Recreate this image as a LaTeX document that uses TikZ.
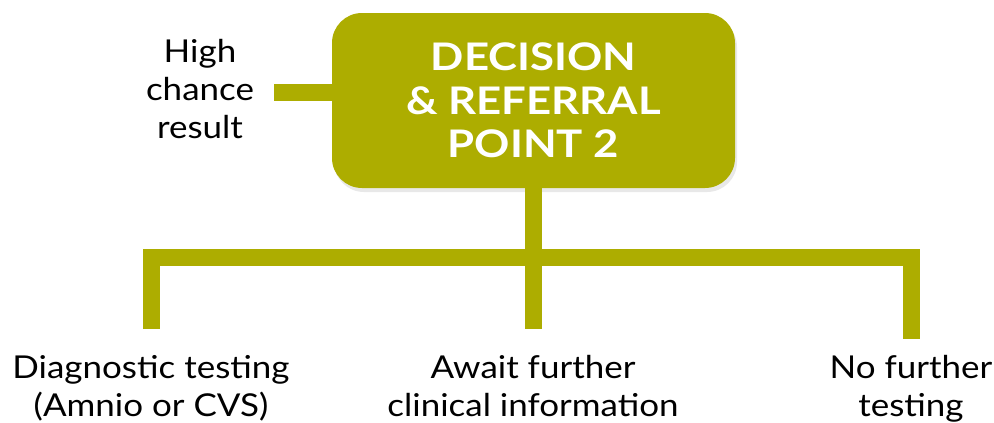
\documentclass[tikz,border=0pt]{standalone}
\usepackage{fontspec}
\setmainfont{Lato}[FakeStretch=1.11]
\newfontfamily\boxfont{Lato}[FakeStretch=1.15]
\usetikzlibrary{shadows}
\definecolor{olive}{RGB}{173,173,0}
\begin{document}
\begin{tikzpicture}[x=1pt,y=-1pt,
  bar/.style={draw=olive,line width=17pt,line cap=butt,line join=miter},
  lbl/.style={inner sep=0pt,align=center,font=\fontsize{31.5}{38}\selectfont,text=black},
  boxst/.style={fill=olive,rounded corners=30pt,minimum width=403pt,minimum height=175pt,
    inner sep=0pt,align=center,text=white,font=\boxfont\bfseries\fontsize{38}{43.5}\selectfont,
    drop shadow={opacity=0.18,shadow xshift=2pt,shadow yshift=-4pt}}]
\useasboundingbox (0,0) rectangle (994,423);
\node[boxst] (box) at (533.5,100.5) {DECISION\\\& REFERRAL\\POINT 2};
\node[lbl,anchor=north] (hc) at (200,39) {High\\chance\\result};
\node[lbl,anchor=north] (d1) at (151,355) {Diagnostic testing\\(Amnio or CVS)};
\node[lbl,anchor=north] (d2) at (533,355) {Await further\\clinical information};
\node[lbl,anchor=north] (d3) at (911,355) {No further\\testing};
\coordinate (lb) at (274,92.5);
\coordinate (j) at (533,257.5);
\coordinate (e1) at (151,329);
\coordinate (e2) at (533,329);
\coordinate (e3) at (911.5,339);
\draw[bar] (lb) -- (box.west |- lb);
\draw[bar] (box.south -| j) -- (e2);
\draw[bar] (e1) -- (e1 |- j) -- (e3 |- j) -- (e3);
\end{tikzpicture}
\end{document}
